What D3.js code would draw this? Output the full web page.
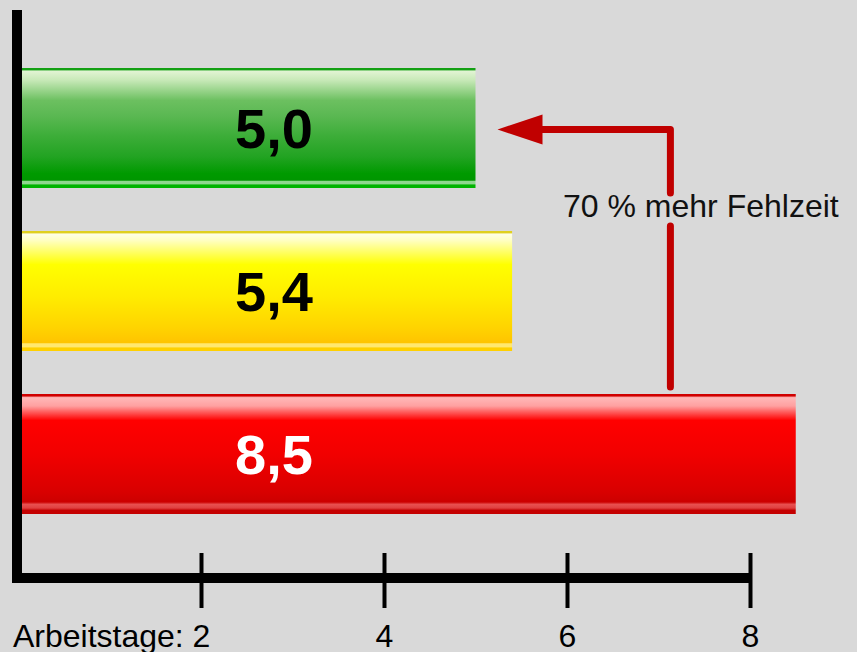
<!DOCTYPE html>
<html>
<head>
<meta charset="utf-8">
<script src="https://cdn.jsdelivr.net/npm/d3@7"></script>
<style>
  html, body { margin: 0; padding: 0; background: #d9d9d9; }
  svg { display: block; }
</style>
</head>
<body>
<script>
// ---- data ----
const categories = ["grün", "gelb", "rot"];
const values = [5.0, 5.4, 8.5];
const valueLabels = ["5,0", "5,4", "8,5"];
const tickValues = [2, 4, 6, 8];
const axisTitle = "Arbeitstage: ";
const annotation = "70 % mehr Fehlzeit";

const W = 857, H = 652;
const svg = d3.select("body").append("svg").attr("width", W).attr("height", H);
svg.append("rect").attr("width", W).attr("height", H).attr("fill", "#d9d9d9");

const x = d3.scaleLinear().domain([0, 8]).range([18, 750]);
const y = d3.scaleBand().domain(categories).range([46.5, 535.5])
  .paddingInner(43 / 163).paddingOuter(43 / 326);

// ---- gradients ----
const defs = svg.append("defs");
const gradStops = {
  "grün": [
    [0, "#13a013"], [0.015, "#13a013"], [0.025, "#e2f4d4"], [0.1, "#c8e9b8"],
    [0.27, "#6cc060"], [0.4, "#5ab852"], [0.57, "#3cad38"], [0.74, "#22a322"],
    [0.88, "#009a00"], [0.935, "#009600"], [0.945, "#8fd88f"], [0.965, "#8fd88f"],
    [0.975, "#00b400"], [1, "#00b400"]
  ],
  "gelb": [
    [0, "#e0d020"], [0.015, "#e0d020"], [0.025, "#ffffe8"], [0.08, "#ffffc0"],
    [0.28, "#ffff00"], [0.55, "#ffec00"], [0.8, "#ffd400"], [0.93, "#ffc400"],
    [0.94, "#ffe870"], [0.965, "#ffe870"], [0.975, "#ffd000"], [1, "#ffd000"]
  ],
  "rot": [
    [0, "#d00000"], [0.015, "#d00000"], [0.03, "#ffb8b8"], [0.1, "#ffa0a0"],
    [0.22, "#ff0000"], [0.5, "#f20000"], [0.82, "#d80000"], [0.9, "#cc0000"],
    [0.92, "#e85050"], [0.95, "#e04040"], [0.97, "#c40000"], [1, "#c40000"]
  ]
};
categories.forEach((c, i) => {
  const g = defs.append("linearGradient").attr("id", "g" + i)
    .attr("x1", 0).attr("y1", 0).attr("x2", 0).attr("y2", 1);
  gradStops[c].forEach(s => g.append("stop").attr("offset", s[0]).attr("stop-color", s[1]));
});

// ---- bars ----
svg.selectAll("rect.bar").data(values).join("rect")
  .attr("class", "bar")
  .attr("x", x(0))
  .attr("y", (d, i) => y(categories[i]))
  .attr("width", d => x(d) - x(0))
  .attr("height", y.bandwidth())
  .attr("fill", (d, i) => `url(#g${i})`);

// ---- value labels ----
const labelColors = ["#000", "#000", "#fff"];
svg.selectAll("text.val").data(valueLabels).join("text")
  .attr("class", "val")
  .attr("x", 274)
  .attr("y", (d, i) => y(categories[i]) + y.bandwidth() / 2 + 20)
  .attr("text-anchor", "middle")
  .attr("font-family", "'Liberation Sans', Arial, sans-serif")
  .attr("font-weight", "bold")
  .attr("font-size", 56)
  .attr("fill", (d, i) => labelColors[i])
  .text(d => d);

// ---- axes ----
svg.append("path")
  .attr("d", `M17,10 V578 H${x(8)}`)
  .attr("fill", "none").attr("stroke", "#000").attr("stroke-width", 10)
  .attr("stroke-linejoin", "miter");

const axis = d3.axisBottom(x).tickValues(tickValues).tickFormat(d => d);
const ax = svg.append("g").attr("transform", "translate(0,578)").call(axis);
ax.select(".domain").remove();
ax.selectAll(".tick line").attr("y1", -25).attr("y2", 30)
  .attr("stroke", "#000").attr("stroke-width", 4);
ax.selectAll(".tick text")
  .attr("y", 69).attr("dy", null)
  .attr("font-family", "'Liberation Sans', Arial, sans-serif")
  .attr("font-size", 32).attr("fill", "#000");
ax.selectAll(".tick").filter((d, i) => i === 0).select("text")
  .attr("text-anchor", "end").attr("x", 8.9)
  .text(d => axisTitle + d);

// ---- annotation arrow ----
const red = "#c00000";
const ax0 = x(7.13);
const yTop = y(categories[0]) + y.bandwidth() / 2 + 1.5;
const yBot = y(categories[2]) - 7;
const tipX = x(values[0]) + 22;
const baseX = tipX + 45;
svg.append("path")
  .attr("d", `M${ax0},${yBot} V226 M${ax0},193 V${yTop} H${baseX}`)
  .attr("fill", "none").attr("stroke", red).attr("stroke-width", 7)
  .attr("stroke-linecap", "round").attr("stroke-linejoin", "round");
svg.append("path")
  .attr("d", `M${tipX},${yTop} L${baseX},${yTop - 15} L${baseX},${yTop + 15} Z`)
  .attr("fill", red);
svg.append("text")
  .attr("x", 563).attr("y", 217)
  .attr("font-family", "'Liberation Sans', Arial, sans-serif")
  .attr("font-size", 32).attr("fill", "#111")
  .text(annotation);
</script>
</body>
</html>
